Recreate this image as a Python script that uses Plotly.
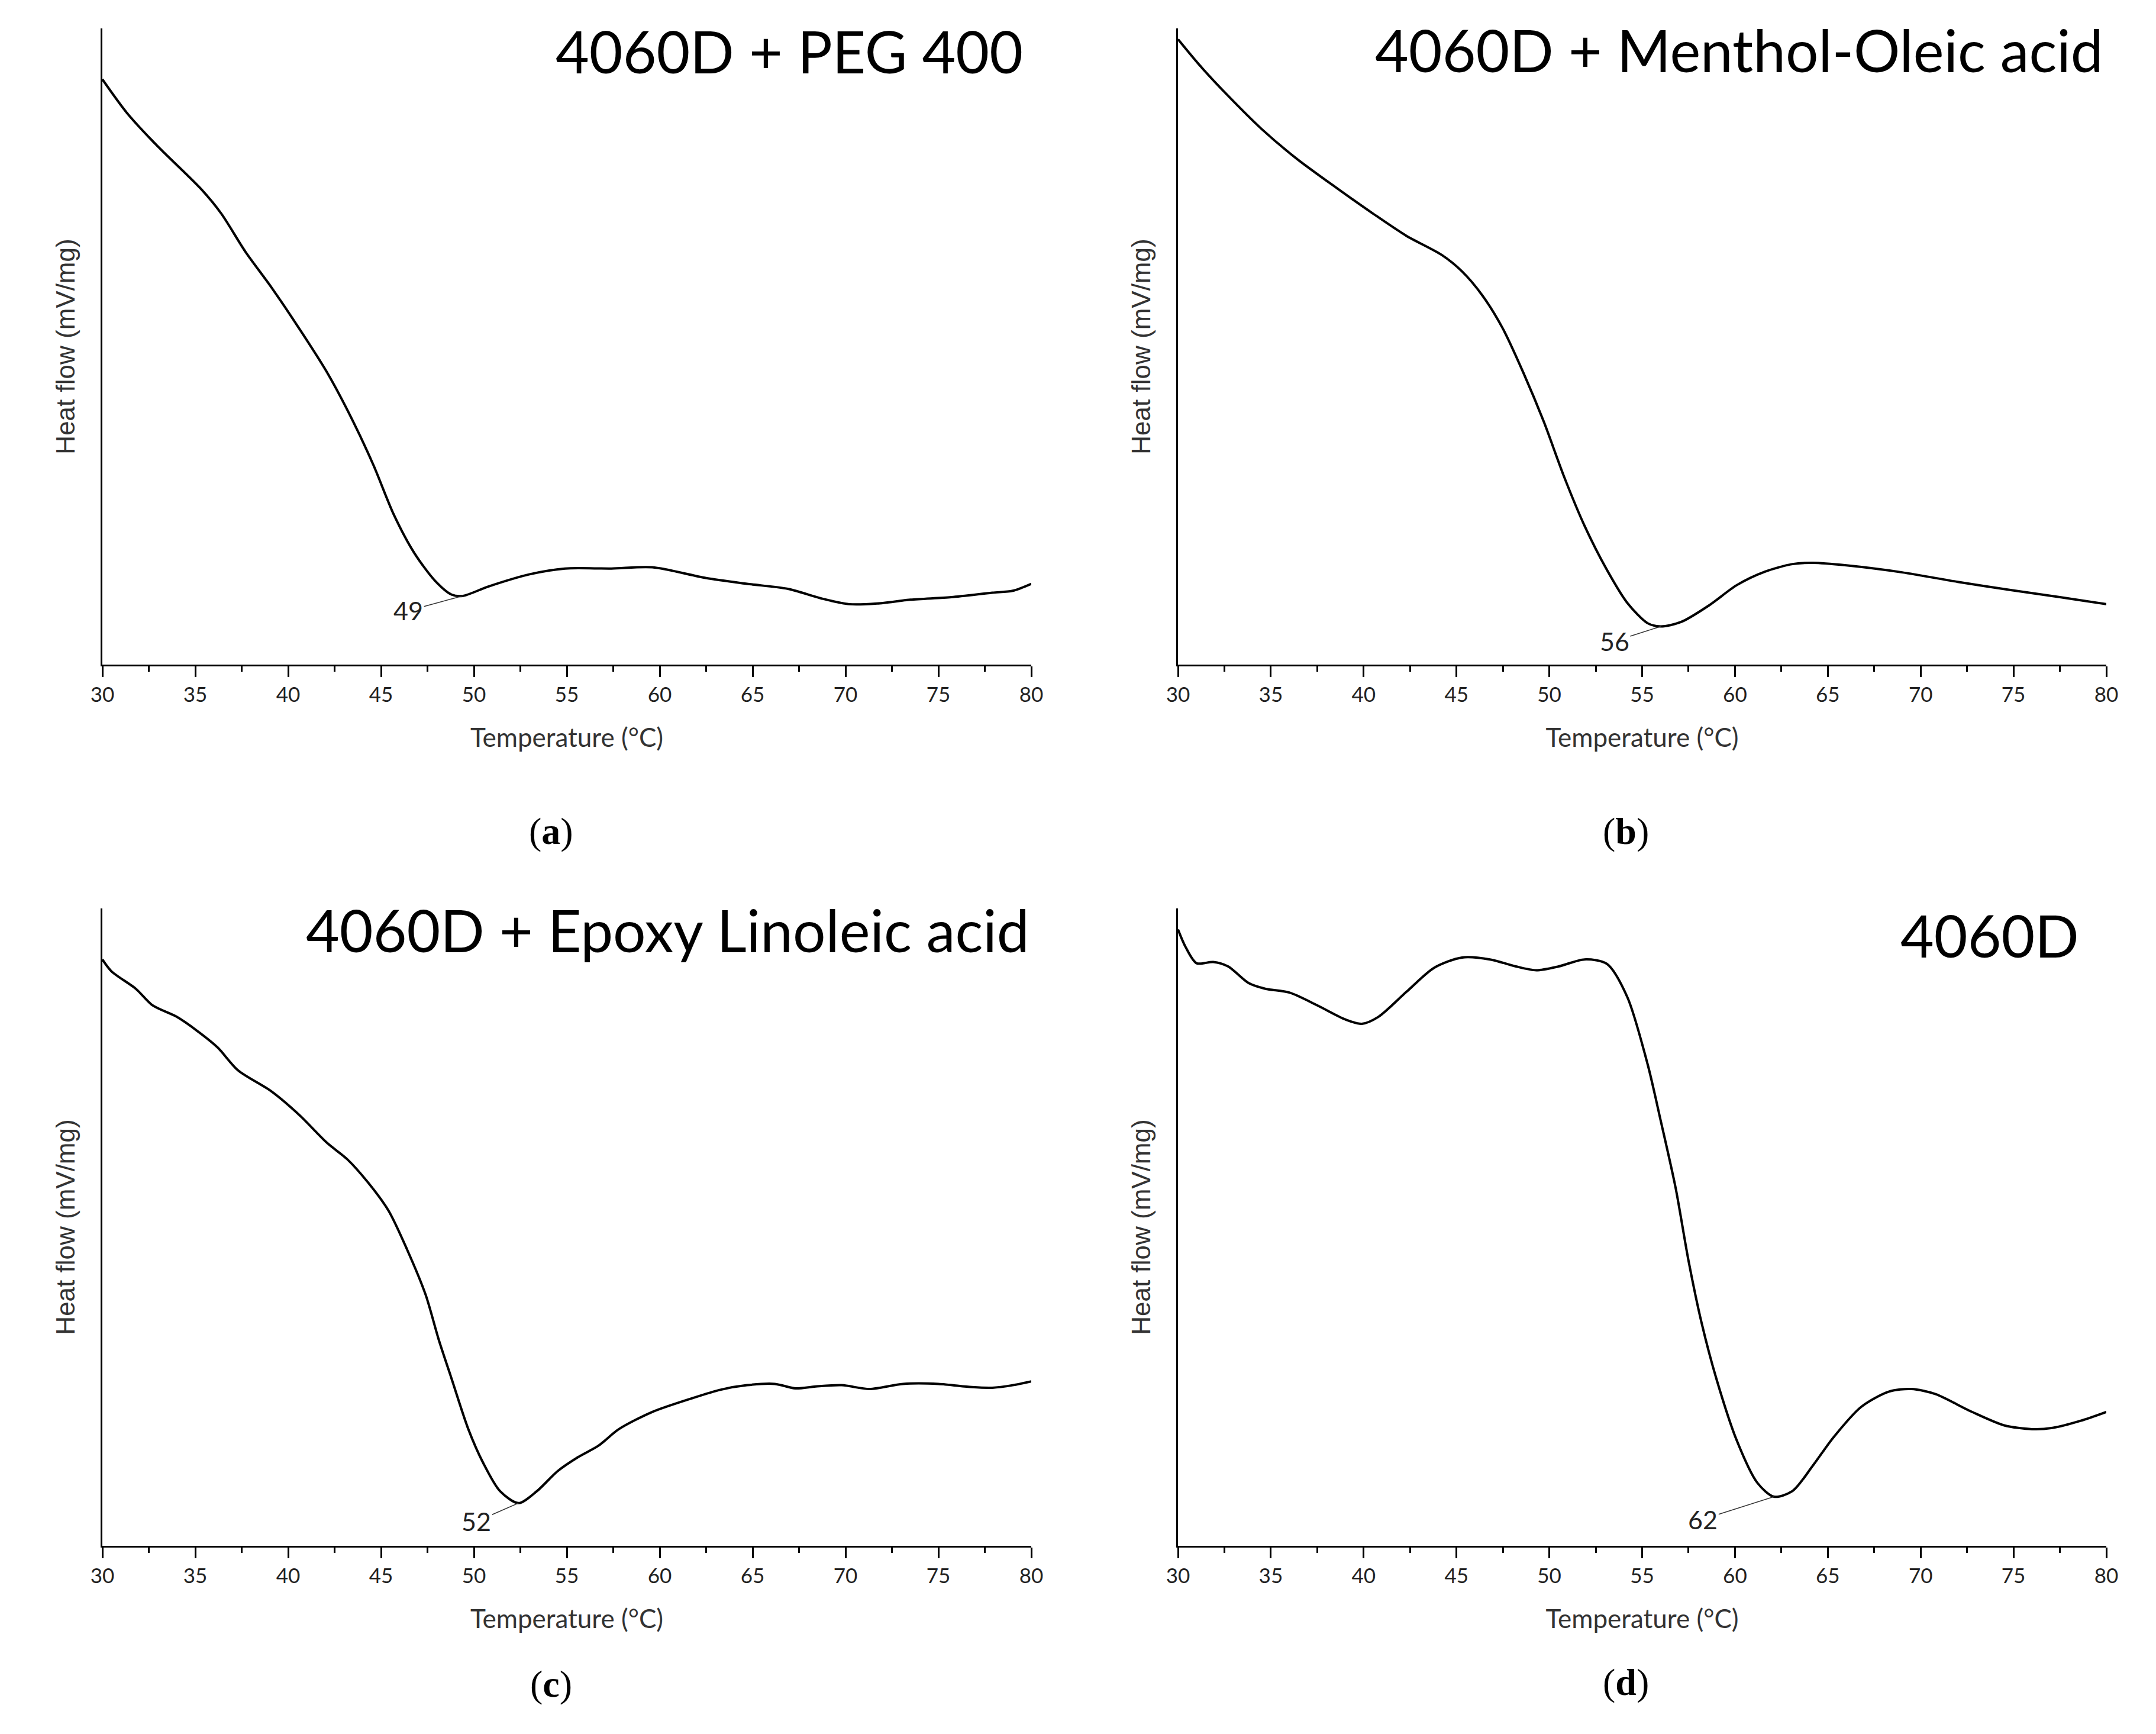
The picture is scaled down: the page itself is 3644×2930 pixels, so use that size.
import plotly.graph_objects as go
from plotly.subplots import make_subplots
import numpy as np

# ---------------- data (relative heat flow, % of axis height) ----------------
temp_a = [30.0, 31.3, 32.9, 35.3, 36.4, 37.7, 39.1, 40.6, 42.1, 43.5, 44.6, 45.7, 46.8,
          47.9, 48.8, 49.4, 50.8, 53.0, 54.9, 57.4, 59.6, 62.5, 64.7, 66.9, 68.7, 70.2,
          71.7, 73.5, 75.7, 77.9, 79.0, 80.0]
heat_a = [92.0, 86.8, 81.7, 74.8, 70.9, 64.9, 59.3, 52.8, 45.9, 38.2, 31.3, 23.5, 17.5,
          13.2, 11.0, 10.8, 12.3, 14.2, 15.1, 15.1, 15.3, 13.6, 12.7, 11.9, 10.4, 9.5,
          9.6, 10.2, 10.6, 11.3, 11.6, 12.7]

temp_b = [30.0, 31.2, 32.7, 34.5, 36.4, 38.6, 40.5, 42.3, 44.2, 45.3, 46.4, 47.5, 48.6,
          49.7, 50.8, 51.9, 53.1, 54.2, 55.3, 56.0, 57.1, 58.6, 60.1, 61.6, 63.1, 64.2,
          66.0, 69.0, 72.0, 74.9, 77.5, 80.0]
heat_b = [98.3, 94.1, 89.4, 84.2, 79.5, 74.8, 70.9, 67.4, 64.4, 61.8, 58.0, 52.8, 45.9,
          38.2, 29.5, 21.8, 14.9, 9.7, 6.5, 6.0, 6.7, 9.3, 12.5, 14.6, 15.8, 16.0,
          15.6, 14.5, 13.0, 11.7, 10.6, 9.5]

temp_c = [30.0, 30.5, 31.8, 32.7, 34.0, 35.1, 36.2, 37.3, 39.1, 40.6, 42.1, 43.2, 44.3,
          45.4, 46.4, 47.4, 48.1, 48.8, 49.7, 50.5, 51.4, 52.4, 53.4, 54.5, 55.6, 56.7,
          57.8, 59.6, 61.8, 63.3, 64.7, 66.2, 67.3, 68.4, 69.8, 71.3, 73.1, 75.0, 76.8,
          77.9, 79.0, 80.0]
heat_c = [92.0, 90.1, 87.4, 84.8, 83.0, 80.8, 78.2, 74.6, 71.3, 67.6, 63.2, 60.6, 57.0,
          52.6, 46.5, 39.4, 32.4, 26.2, 18.3, 13.0, 8.6, 6.7, 8.6, 11.7, 13.9, 15.7,
          18.3, 21.0, 23.2, 24.5, 25.2, 25.4, 24.7, 25.0, 25.2, 24.6, 25.4, 25.4, 24.9,
          24.8, 25.2, 25.8]

temp_d = [30.0, 30.4, 31.0, 31.9, 32.7, 33.8, 34.7, 36.0, 37.5, 39.0, 39.9, 40.8, 42.3,
          43.8, 45.3, 46.8, 48.2, 49.3, 50.5, 51.9, 53.1, 54.2, 55.3, 56.0, 56.8, 57.5,
          58.2, 59.0, 60.1, 61.2, 62.1, 63.1, 64.2, 65.3, 66.8, 68.3, 69.5, 70.8, 72.7,
          74.5, 76.0, 77.1, 78.6, 80.0]
heat_d = [96.7, 94.0, 91.4, 91.6, 90.9, 88.3, 87.4, 86.8, 84.8, 82.6, 81.9, 83.0, 86.9,
          90.7, 92.3, 92.0, 90.9, 90.3, 90.9, 92.0, 91.3, 86.1, 75.5, 66.7, 56.2, 44.7,
          35.0, 26.2, 16.5, 9.9, 7.7, 8.6, 12.6, 17.0, 21.8, 24.2, 24.6, 23.8, 21.1,
          18.9, 18.3, 18.5, 19.6, 21.0]

panel_titles = ["4060D + PEG 400", "4060D + Menthol-Oleic acid",
                "4060D + Epoxy Linoleic acid", "4060D"]
panel_letters = ["a", "b", "c", "d"]
peak_temps = [49, 56, 52, 62]
x_tick_values = [30, 35, 40, 45, 50, 55, 60, 65, 70, 75, 80]
x_title = "Temperature (°C)"
y_title = "Heat flow (mV/mg)"

series = [(temp_a, heat_a), (temp_b, heat_b), (temp_c, heat_c), (temp_d, heat_d)]

# ---------------- layout geometry ----------------
W, H = 3644, 2930
x_domains = [(173 / W, 1743 / W), (1991 / W, 3560 / W)]
y_domains = [(1 - 1123 / H, 1 - 48 / H), (1 - 2612 / H, 1 - 1535 / H)]
title_pos = [(1731 / W, 1 - 86 / H), (3557 / W, 1 - 84 / H),
             (1742 / W, 1 - 1571 / H), (3516 / W, 1 - 1580 / H)]
letter_pos = [(932 / W, 1 - 1405 / H), (2748 / W, 1 - 1405 / H),
              (932 / W, 1 - 2845 / H), (2748 / W, 1 - 2842 / H)]
peak_offsets = [(-92, 25), (-78, 25), (-71, 31), (-120, 38)]

fig = make_subplots(rows=2, cols=2)

for i, (tx, hy) in enumerate(series):
    r, c = i // 2 + 1, i % 2 + 1
    fig.add_trace(go.Scatter(x=tx, y=hy, mode="lines",
                             line=dict(color="black", width=4, shape="spline", smoothing=0.8),
                             showlegend=False, hoverinfo="skip"), row=r, col=c)
    axn = "" if i == 0 else str(i + 1)
    fig.update_xaxes(domain=x_domains[c - 1], range=[30, 80], tickvals=x_tick_values,
                     showline=True, linecolor="black", linewidth=3, mirror=False,
                     ticks="outside", ticklen=18, tickwidth=3, tickcolor="black",
                     minor=dict(ticks="outside", ticklen=9, tickwidth=3, tickcolor="black",
                                dtick=2.5, tick0=30, showgrid=False),
                     showgrid=False, zeroline=False,
                     tickfont=dict(family="Lato", size=35, color="#222"),
                     title=dict(text=x_title, font=dict(family="Lato", size=44, color="#333"),
                                standoff=40),
                     row=r, col=c)
    fig.update_yaxes(domain=y_domains[r - 1], range=[0, 100], showline=True,
                     linecolor="black", linewidth=3, showticklabels=False, ticks="",
                     showgrid=False, zeroline=False,
                     title=dict(text=y_title, font=dict(family="Liberation Sans", size=44,
                                                       color="#333"), standoff=30),
                     row=r, col=c)
    # panel title
    fig.add_annotation(xref="paper", yref="paper", x=title_pos[i][0], y=title_pos[i][1],
                       xanchor="right", yanchor="middle", showarrow=False,
                       text=panel_titles[i],
                       font=dict(family="Lato", size=98, color="black"))
    # panel letter
    fig.add_annotation(xref="paper", yref="paper", x=letter_pos[i][0], y=letter_pos[i][1],
                       xanchor="center", yanchor="middle", showarrow=False,
                       text="(<b>" + panel_letters[i] + "</b>)",
                       font=dict(family="Liberation Serif", size=64, color="black"))
    # peak annotation at the local minimum near the labelled temperature
    tx_arr = np.array(tx)
    hy_arr = np.array(hy)
    window = np.where(np.abs(tx_arr - peak_temps[i]) <= 2.0)[0]
    k = int(window[np.argmin(hy_arr[window])])
    fig.add_annotation(xref="x" + axn, yref="y" + axn, x=tx[k], y=hy[k],
                       text=str(peak_temps[i]), showarrow=True, arrowhead=0,
                       arrowwidth=1.5, arrowcolor="#333", standoff=0,
                       ax=peak_offsets[i][0], ay=peak_offsets[i][1],
                       font=dict(family="Lato", size=43, color="#222"))

fig.update_layout(width=W, height=H, margin=dict(l=0, r=0, t=0, b=0),
                  paper_bgcolor="white", plot_bgcolor="white", template="none")

fig.write_html("out.html", config={"displayModeBar": False},
               post_script="document.body.style.margin='0';")
